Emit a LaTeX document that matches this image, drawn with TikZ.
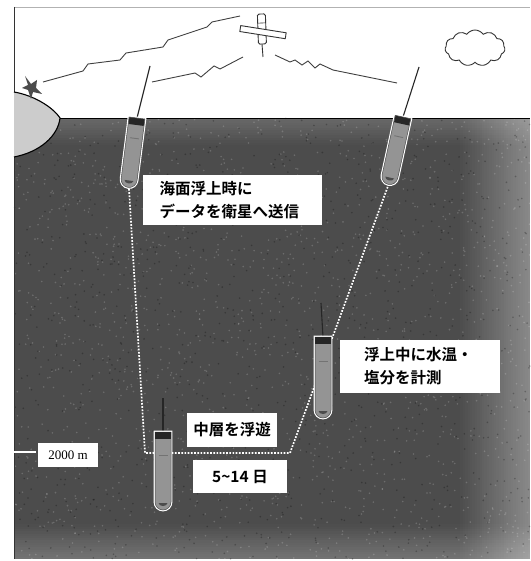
\documentclass[tikz,border=0pt]{standalone}
\usepackage{fontspec}
\usetikzlibrary{shapes.symbols}
\newfontfamily\jpfont{Noto Sans CJK JP Bold}
\newfontfamily\serifnum{Liberation Serif}

\definecolor{sea}{gray}{0.30}
\definecolor{landgray}{gray}{0.80}
\definecolor{floatgray}{gray}{0.58}
\definecolor{wave}{gray}{0.25}

\tikzset{
  lbl/.style={fill=white, inner sep=0pt, font=\jpfont\fontsize{15.5}{23}\selectfont, text=black},
  radio/.style={draw=wave, line width=0.9pt, line join=miter},
  track/.style={draw=white, line width=1.7pt, dash pattern=on 1.7pt off 1.5pt},
  mast/.style={draw=black!85, line width=1.1pt},
  pics/argo/.style={code={
    \path[fill=floatgray, draw=black!70, line width=0.5pt,
          preaction={draw=white, line width=2.8pt}]
      (-8,0) -- (-8,#1) arc[start angle=180, end angle=0, radius=8] -- (8,0) -- cycle;
    \fill[black!85] (-7.6,0.3) rectangle (7.6,7);
    \draw[black!55, line width=0.9pt] (-4.5,{0.33*#1}) -- (4.5,{0.33*#1});
    \fill[black!70] (-4.5,{#1+1}) .. controls (-4,{#1+5}) and (4,{#1+5}) .. (4.5,{#1+1}) -- cycle;
  }}
}

\begin{document}
\begin{tikzpicture}[x=1pt, y=-1pt]
\useasboundingbox (0,0) rectangle (530,561);
\fill[white] (0,0) rectangle (530,561);

% ---- ocean body ----
\fill[sea] (14,118) rectangle (530,559);
% lighter water towards the right edge, the bottom and just under the surface
\foreach \k in {0,...,29}{
  \fill[white, opacity={0.34*\k/29}] ({458+2.4*\k},118) rectangle ({458+2.4*(\k+1)},559);
}
\foreach \k in {0,...,15}{
  \fill[white, opacity={0.22*\k/15}] (14,{522+2.3*\k}) rectangle (530,{522+2.3*(\k+1)});
}
\foreach \k in {0,...,11}{
  \fill[white, opacity={0.16*(11-\k)/11}] (14,{118+2.5*\k}) rectangle (530,{118+2.5*(\k+1)});
}

% grain of the printed ocean
\pgfmathsetseed{17}
\foreach \i in {1,...,1600}{
  \fill[white, opacity=0.18] ({14+516*rnd},{118+441*rnd}) circle (0.9);
}
\foreach \i in {1,...,1000}{
  \fill[black, opacity=0.25] ({14+516*rnd},{118+441*rnd}) circle (0.9);
}

% ---- frame ----
\draw[gray!60, line width=0.6pt] (14,7) -- (530,7);
\draw[black!80, line width=0.8pt] (14,7) -- (14,559);

% sea surface
\draw[black, line width=0.8pt] (60,118) -- (530,118);

% ---- land with ground station ----
\path[fill=landgray, draw=black, line width=1.1pt]
  (14,92) .. controls (32,95) and (52,106) .. (60,118)
  .. controls (58,136) and (40,152) .. (14,157);
\fill[black!70] (25,76) -- (31,84) -- (37,80) -- (36,88) -- (42,94)
  -- (33,92) -- (31,99) -- (28,90) -- (22,88) -- (28,85) -- cycle;
\draw[black!70, line width=1pt] (31,92) -- (30,97);
\coordinate (dish) at (43,82);

% ---- satellite ----
\coordinate (sat) at (262,32);
\begin{scope}[shift={(sat)}, rotate=2]
  \draw[black!80, line width=0.9pt, fill=white, rounded corners=1.5pt] (-4,-18) rectangle (4,12);
  \draw[black!80, line width=0.6pt] (-4,-9) -- (4,-9);
\end{scope}
\begin{scope}[shift={(sat)}, rotate=-9]
  \draw[black!80, line width=0.9pt, fill=white] (-22,-3) rectangle (24,3);
\end{scope}
\draw[black!80, line width=0.9pt] (262,44) -- (263,57);
\coordinate (satL) at (240,16);
\coordinate (satB) at (243,57);
\coordinate (satR) at (275,55);

% ---- cloud ----
\node[cloud, cloud puffs=11, cloud puff arc=110, aspect=1.7, draw=black!80,
      line width=0.9pt, fill=white, minimum width=60pt, minimum height=36pt,
      inner sep=0pt] (cloud) at (475,48) {};

% ---- floats ----
\coordinate (lfTop) at (137,118);
\coordinate (lfAnt) at (150,66);
\coordinate (lfBot) at (129,189);
\coordinate (rfTop) at (403,117);
\coordinate (rfAnt) at (419,67);
\coordinate (rfBot) at (388,186);
\coordinate (mfTop) at (163,432);
\coordinate (mfAnt) at (163,398);
\coordinate (sfTop) at (323,337);
\coordinate (sfAnt) at (321,303);

% drift track of the float
\coordinate (deepL) at (145,453);
\coordinate (deepR) at (290,453);
\draw[track] (lfBot) -- (deepL) -- (deepR) -- (rfBot);

% antennas
\draw[mast] (lfTop) -- (lfAnt);
\draw[mast] (rfTop) -- (rfAnt);
\draw[mast] (mfTop) -- (mfAnt);
\draw[mast] (sfTop) -- (sfAnt);

\path (lfTop) pic[rotate=-7.3] {argo=62};
\path (rfTop) pic[rotate=-12.4] {argo=61};
\path (mfTop) pic {argo=70};
\path (sfTop) pic {argo=73};

% ---- radio links ----
\draw[radio] (dish) -- (83,71) -- (88,64) -- (120,60) -- (126,53) -- (163,47)
  -- (168,40) -- (207,27) -- (212,22) -- (satL);
\draw[radio] (lfAnt) ++(2,16) -- (195,73) -- (201,77) -- (214,66) -- (220,69) -- (satB);
\draw[radio] (satR) -- (290,62) -- (295,60) -- (302,65) -- (308,61) -- (315,68)
  -- (320,64) -- (333,70) -- (397,83);

% ---- labels ----
\node[lbl, minimum width=179pt, minimum height=50pt, text width=146pt, align=left]
  (surf) at (232.5,200) {海面浮上時に\\データを衛星へ送信};
\node[lbl, minimum width=160pt, minimum height=53pt, text width=112pt, align=left]
  (meas) at (420,366.5) {浮上中に水温・\\塩分を計測};
\node[lbl, minimum width=90pt, minimum height=34pt] (drift) at (232,430) {中層を浮遊};
\node[lbl, minimum width=94pt, minimum height=33pt] (days) at (240,476.5)
  {5\textasciitilde14 日};

% depth mark
\draw[white, line width=1.6pt] (14,452) -- (36,452);
\node[fill=white, inner sep=0pt, minimum width=60pt, minimum height=24pt,
      font=\serifnum\fontsize{13}{13}\selectfont] (depth) at (68,455) {2000 m};
\end{tikzpicture}
\end{document}
